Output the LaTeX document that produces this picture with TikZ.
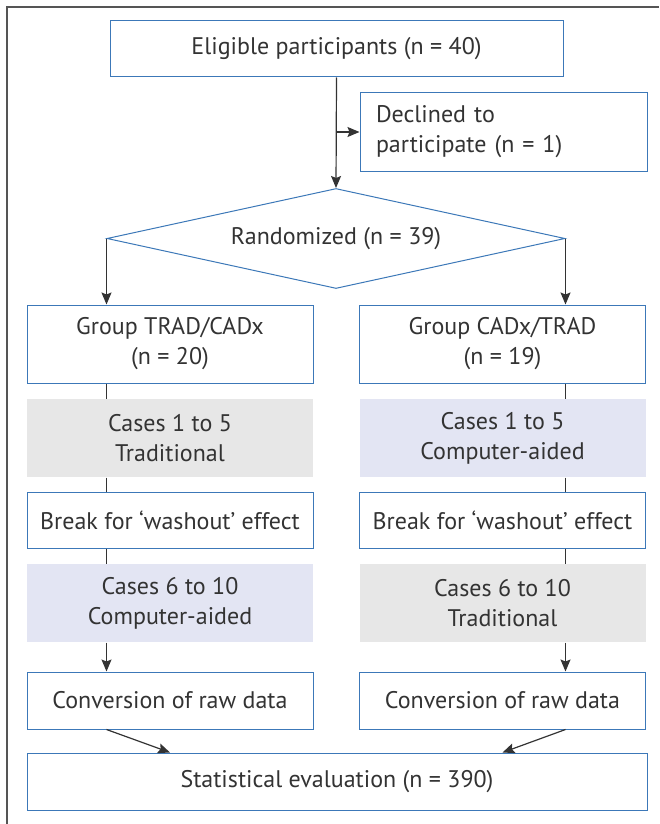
\documentclass[tikz,border=0pt]{standalone}
\usepackage{fontspec}
\setmainfont{PT Sans}
\usetikzlibrary{shapes.geometric,arrows.meta}

\definecolor{boxblue}{HTML}{3C78B8}
\definecolor{txtgray}{HTML}{333333}
\definecolor{fillgray}{HTML}{E7E7E7}
\definecolor{filllav}{HTML}{E3E5F3}
\definecolor{framegray}{HTML}{555555}

\tikzset{
	box/.style = {draw = boxblue, line width = 1pt, fill = white, text = txtgray, align = center,
		inner sep = 0pt, minimum width = 286, font = \fontsize{24}{30}\selectfont},
	shaded/.style = {box, draw = none, fill = #1},
	link/.style = {draw = txtgray, line width = 1.2pt},
	arr/.style = {link, -{Stealth[length = 12pt, width = 10pt, inset = 2pt]}},
}

\begin{document}
\begin{tikzpicture}[x = 1pt, y = -1pt]
	%	frame
	\useasboundingbox (0, 0) rectangle (659, 824);
	\draw[framegray, line width = 1.5pt] (7, 824) -- (7, 7) -- (659, 7);
	
	%	top part
	\node[box, minimum width = 453, minimum height = 56] (eligible) at (336.5, 49) {Eligible participants (n = 40)};
	\node[box, minimum width = 287, minimum height = 78, text width = 255, align = left] (declined) at (503.5, 132) {Declined to\\participate (n = 1)};
	\node[box, shape = diamond, shape aspect = 4.58, minimum width = 458, minimum height = 100] (rand) at (336, 238.5) {Randomized (n = 39)};
	
	%	left column
	\node[box, minimum height = 78] (grpA) at (170, 344) {Group TRAD/CADx\\(n = 20)};
	\node[shaded = fillgray, minimum height = 78] (casA1) at (170, 438) {Cases 1 to 5\\Traditional};
	\node[box, minimum height = 56] (brkA) at (170, 520) {Break for ‘washout’ effect};
	\node[shaded = filllav, minimum height = 78] (casA2) at (170, 603) {Cases 6 to 10\\Computer-aided};
	\node[box, minimum height = 57] (convA) at (170, 700.5) {Conversion of raw data};
	
	%	right column
	\node[box, minimum height = 78] (grpB) at (502.5, 344) {Group CADx/TRAD\\(n = 19)};
	\node[shaded = filllav, minimum height = 78] (casB1) at (502.5, 438) {Cases 1 to 5\\Computer-aided};
	\node[box, minimum height = 56] (brkB) at (502.5, 520) {Break for ‘washout’ effect};
	\node[shaded = fillgray, minimum height = 78] (casB2) at (502.5, 603) {Cases 6 to 10\\Traditional};
	\node[box, minimum height = 57] (convB) at (502.5, 700.5) {Conversion of raw data};
	
	\node[box, minimum width = 620, minimum height = 57] (stat) at (337, 781.5) {Statistical evaluation (n = 390)};
	
	%	connectors
	\draw[arr] (eligible.south) -- (rand.north);
	\draw[arr] (eligible.south |- declined.west) -- (declined.west);
	\draw[arr] (rand.west) -- (rand.west |- grpA.north);
	\draw[arr] (rand.east) -- (rand.east |- grpB.north);
	
	\foreach \col/\g/\a/\b/\c/\d in {west/grpA/casA1/brkA/casA2/convA, east/grpB/casB1/brkB/casB2/convB}{
		\draw[link] (rand.\col |- \g.south) -- (rand.\col |- \a.north);
		\draw[link] (rand.\col |- \a.south) -- (rand.\col |- \b.north);
		\draw[link] (rand.\col |- \b.south) -- (rand.\col |- \c.north);
		\draw[arr] (rand.\col |- \c.south) -- (rand.\col |- \d.north);
		\draw[arr] (rand.\col |- \d.south) -- (stat.north -| \d);
	}
\end{tikzpicture}
\end{document}
